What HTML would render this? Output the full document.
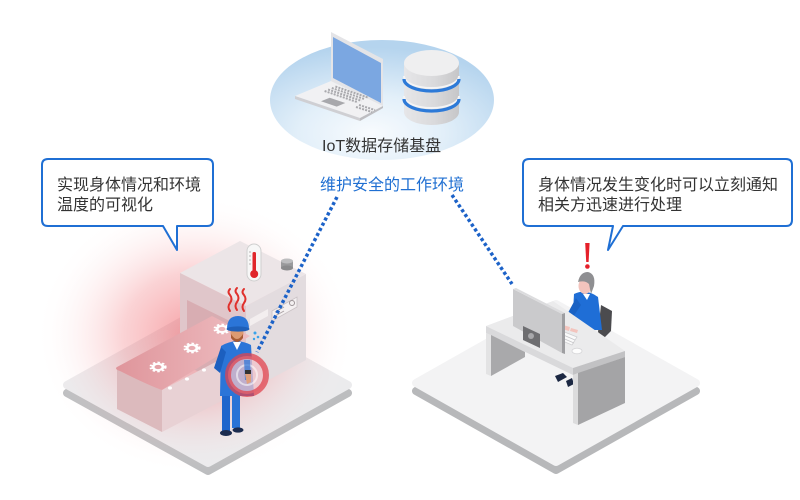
<!DOCTYPE html>
<html><head><meta charset="utf-8">
<style>
html,body{margin:0;padding:0;background:#fff;}
svg{display:block;}
text{font-family:"Liberation Sans","Noto Sans CJK SC",sans-serif;font-size:16px;}
</style></head>
<body>
<svg width="800" height="500" viewBox="0 0 800 500" xmlns="http://www.w3.org/2000/svg">
<defs>
 <radialGradient id="cloud" cx="0.45" cy="0.78" r="0.72">
  <stop offset="0" stop-color="#f8fbfe"/>
  <stop offset="0.45" stop-color="#e2eff9"/>
  <stop offset="1" stop-color="#b5d4ee"/>
 </radialGradient>
 <radialGradient id="glow" cx="0.5" cy="0.5" r="0.5">
  <stop offset="0" stop-color="#ef4e56" stop-opacity="0.55"/>
  <stop offset="0.45" stop-color="#f27a80" stop-opacity="0.33"/>
  <stop offset="1" stop-color="#ffffff" stop-opacity="0"/>
 </radialGradient>
 <linearGradient id="cyl" x1="0" x2="1">
  <stop offset="0" stop-color="#e6e6e8"/><stop offset="0.55" stop-color="#dadadc"/><stop offset="1" stop-color="#c6c6c8"/>
 </linearGradient>
 <linearGradient id="belt" x1="0" y1="0" x2="1" y2="0">
  <stop offset="0" stop-color="#df959b"/><stop offset="1" stop-color="#eebdc1"/>
 </linearGradient>
</defs>

<!-- Cloud -->
<ellipse cx="382" cy="100" rx="112" ry="60" fill="url(#cloud)"/>

<!-- Laptop -->
<polygon points="295,96 331,81 383,106 360,118" fill="#f1f1f3"/>
<polygon points="295,96 360,118 360,121 295,99" fill="#cfcfd3"/>
<polygon points="360,118 383,106 383,108 360,121" fill="#bdbdc1"/>
<polygon points="331,32 383,59 383,106 331,81" fill="#e4e4e7"/>
<polygon points="333,37 381,63 381,103 333,78" fill="#7ba7e1"/>
<g stroke="#a9a9ad" stroke-width="2" stroke-dasharray="2 1.2">
 <line x1="324.6" y1="91" x2="358" y2="102.4"/>
 <line x1="328.1" y1="89.5" x2="361.5" y2="100.9"/>
 <line x1="331.8" y1="88" x2="365" y2="99.3"/>
 <line x1="335.4" y1="86.5" x2="368.5" y2="97.8"/>
 <line x1="356" y1="107" x2="372" y2="112"/>
 <line x1="359" y1="105" x2="375" y2="110"/>
</g>
<polygon points="321,101.3 329.7,97.7 345.3,103 336.7,106.6" fill="#a8a8ac"/>

<!-- Database -->
<path d="M404,63 V112 A27.5,13 0 0 0 459,112 V63 Z" fill="url(#cyl)"/>
<path d="M404,76 A27.5,12 0 0 0 459,76" fill="none" stroke="#f4f4f5" stroke-width="2"/>
<path d="M404,79 A27.5,12 0 0 0 459,79" fill="none" stroke="#2d7ad8" stroke-width="3.2"/>
<path d="M404,96 A27.5,12 0 0 0 459,96" fill="none" stroke="#f4f4f5" stroke-width="2"/>
<path d="M404,99 A27.5,12 0 0 0 459,99" fill="none" stroke="#2d7ad8" stroke-width="3.2"/>
<ellipse cx="431.5" cy="63" rx="27.5" ry="13" fill="#efeff0"/>

<text x="322" y="151" fill="#333">IoT数据存储基盘</text>
<text x="320" y="190" fill="#1f6fd2">维护安全的工作环境</text>

<!-- Left platform -->
<polygon points="207,315 67,393 208,471 348,393" fill="#bcbdbf" stroke="#bcbdbf" stroke-width="8" stroke-linejoin="round"/>
<polygon points="207,307 67,385 208,463 348,385" fill="#ebebed" stroke="#ebebed" stroke-width="8" stroke-linejoin="round"/>

<!-- glow -->
<ellipse cx="195" cy="335" rx="160" ry="140" fill="url(#glow)"/>

<!-- Machine -->
<polygon points="180,273 240,241 306,274 246,306" fill="#ece5e7"/>
<polygon points="180,273 246,306 246,392 180,359" fill="#e0c6ca"/>
<polygon points="246,306 306,274 306,360 246,392" fill="#e3dcdf"/>
<polygon points="187,300 240,326 240,392 187,366" fill="#d8adb2"/>
<!-- control panel & glass -->
<polygon points="272,311 297,297 297,307 272,321" fill="#f4f0f1" stroke="#c9c1c4" stroke-width="0.8"/>
<circle cx="292" cy="303" r="2.5" fill="none" stroke="#9c9497" stroke-width="1"/>
<g stroke="#a9a1a4" stroke-width="1"><line x1="275" y1="312" x2="284" y2="307"/><line x1="275" y1="316" x2="284" y2="311"/></g>
<polygon points="250,319 268,309 268,316 250,326" fill="#f6f2f3" opacity="0.8"/>
<!-- Thermometer -->
<rect x="247" y="244" width="14" height="37" rx="7" fill="#f7f7f7" stroke="#cfcfcf" stroke-width="1"/>
<rect x="252.5" y="252" width="3.5" height="20" rx="1.5" fill="#e0262b"/>
<circle cx="254.2" cy="274" r="4" fill="#e0262b"/>
<g stroke="#9a9a9a" stroke-width="0.7"><line x1="249" y1="252" x2="251" y2="252"/><line x1="249" y1="256" x2="251" y2="256"/><line x1="249" y1="260" x2="251" y2="260"/><line x1="249" y1="264" x2="251" y2="264"/></g>
<!-- small cylinder -->
<rect x="281" y="261" width="12" height="7" fill="#9a9a9c"/>
<ellipse cx="287" cy="268" rx="6" ry="2.5" fill="#8a8a8c"/>
<ellipse cx="287" cy="261" rx="6" ry="2.5" fill="#bdbdbf"/>

<!-- Conveyor -->
<polygon points="117,367 162,390 162,432 117,409" fill="#dcbabd"/>
<polygon points="162,390 250,344 250,386 162,432" fill="#e8d1d4"/>
<path d="M117,367 L212,316 L250,336 L162,390 Q150,386 120,371 Q114,369 117,367 Z" fill="url(#belt)"/>
<g fill="#fff">
 <ellipse cx="170" cy="388" rx="2" ry="1.6"/><ellipse cx="187" cy="379" rx="2" ry="1.6"/><ellipse cx="204" cy="370" rx="2" ry="1.6"/>
</g>
<g fill="none" stroke="#fff">
 <g transform="translate(158,367) scale(1,0.62)"><circle r="5" stroke-width="3"/><circle r="7.3" stroke-width="2.6" stroke-dasharray="2.6 2.2"/></g>
 <g transform="translate(192,348) scale(1,0.62)"><circle r="5" stroke-width="3"/><circle r="7.3" stroke-width="2.6" stroke-dasharray="2.6 2.2"/></g>
 <g transform="translate(222,329) scale(1,0.62)"><circle r="5" stroke-width="3"/><circle r="7.3" stroke-width="2.6" stroke-dasharray="2.6 2.2"/></g>
</g>

<!-- left dotted line -->
<line x1="337" y1="197" x2="257" y2="352" stroke="#1c62c8" stroke-width="3.5" stroke-dasharray="3.2 2.6"/>

<!-- Worker -->
<g>
 <rect x="222" y="392" width="8" height="39" fill="#1f66cc"/>
 <rect x="232" y="392" width="8" height="36" fill="#2a73d6"/>
 <ellipse cx="226" cy="433" rx="6" ry="3" fill="#1c2c4f"/>
 <ellipse cx="238" cy="430" rx="5.5" ry="2.6" fill="#1c2c4f"/>
 <path d="M221,346 Q236,337 251,345 L254,396 L220,396 Z" fill="#2b75d8"/>
 <path d="M221,347 L214,368 L220,373 L226,352 Z" fill="#1c5fbf"/>
 <path d="M233,342 L237,350 L241,342 Z" fill="#fff"/>
 <ellipse cx="237" cy="333" rx="6.5" ry="7" fill="#dc9a72"/>
 <path d="M231,334 Q237,344 243,334 L243,338 Q237,346 231,338 Z" fill="#a85c35"/>
 <path d="M227,329 Q227,316 238,316 Q249,316 249,329 Z" fill="#2b75d8"/>
 <ellipse cx="238" cy="329" rx="11.5" ry="2.6" fill="#1f5fb8"/>
 <circle cx="255" cy="333" r="1.5" fill="#3aa3ea"/><circle cx="258" cy="337" r="1.3" fill="#3aa3ea"/><circle cx="254" cy="339" r="1.2" fill="#3aa3ea"/>
 <circle cx="247" cy="375" r="19" fill="#f1c3c9" fill-opacity="0.75" stroke="#e0444f" stroke-opacity="0.75" stroke-width="6"/>
 <circle cx="247" cy="375" r="10" fill="none" stroke="#fff" stroke-opacity="0.55" stroke-width="2"/>
 <path d="M244,360 L250,360 L251,380 L245,380 Z" fill="#2b75d8" opacity="0.7"/>
 <rect x="245" y="370" width="6" height="4" fill="#333"/>
 <path d="M245,374 L251,374 L251,382 L247,384 Z" fill="#e0a07c"/>
 <g fill="none" stroke="#e0312d" stroke-width="2" stroke-linecap="round">
  <path d="M230,311 q-3,-4 0,-8 q3,-4 0,-8 q-3,-3 0,-6"/>
  <path d="M237,310 q-3,-4 0,-8 q3,-4 0,-8 q-3,-3 0,-6"/>
  <path d="M244,311 q-3,-4 0,-8 q3,-4 0,-8 q-3,-3 0,-6"/>
 </g>
</g>

<!-- Right platform -->
<polygon points="556,312 416,391 556,470 696,391" fill="#b7b8ba" stroke="#b7b8ba" stroke-width="8" stroke-linejoin="round"/>
<polygon points="556,304 416,383 556,462 696,383" fill="#f3f3f4" stroke="#f3f3f4" stroke-width="8" stroke-linejoin="round"/>

<!-- feet under desk -->
<polygon points="555,376 563,373 567,377 558,382" fill="#1b2742"/>
<polygon points="566,381 572,378 574,384 568,387" fill="#1b2742"/>

<!-- chair -->
<polygon points="601,305 612,311 611,331 603,339 598,332" fill="#4b4b4e"/>
<!-- person -->
<path d="M574,294 Q586,288 598,297 L602,330 L572,330 Z" fill="#1f6ed6"/>
<path d="M576,298 L563,322 L567,326 L581,305 Z" fill="#1a62c4"/>
<ellipse cx="585" cy="286" rx="6.5" ry="8" fill="#f3c4bd"/>
<path d="M578,282 Q580,272 588,272 Q596,274 594,286 L591,294 L589,284 Q585,280 578,282 Z" fill="#8f8f92"/>
<path d="M583,294 L587,300 L590,294 Z" fill="#fff"/>
<!-- exclamation -->
<path d="M585.2,243 L589.6,243 L588.6,262 L586.2,262 Z" fill="#e5202a"/>
<circle cx="587.4" cy="266.5" r="2.3" fill="#e5202a"/>

<!-- Desk -->
<polygon points="486,326 553,301 625,351 573,368" fill="#ebebec"/>
<polygon points="486,326 573,368 573,375 486,333" fill="#d9d9db"/>
<polygon points="573,368 625,351 625,357 573,375" fill="#c2c2c4"/>
<polygon points="486,333 491,335 491,376 486,374" fill="#e3e3e4"/>
<polygon points="491,335 525,352 525,357 491,376" fill="#a9a9ab"/>
<polygon points="573,375 578,373 578,425 573,423" fill="#dcdcdd"/>
<polygon points="578,373 625,357 625,403 578,425" fill="#a4a4a6"/>
<!-- keyboard, mouse, hands -->
<polygon points="562,331 577,337 572,345 558,339" fill="#fafafa" stroke="#cfcfd2" stroke-width="0.8"/>
<g stroke="#c4c4c7" stroke-width="0.7"><line x1="561" y1="334" x2="575" y2="340"/><line x1="560" y1="337" x2="574" y2="343"/></g>
<ellipse cx="577" cy="351" rx="5" ry="2.8" fill="#fdfdfd" stroke="#d6d6d8" stroke-width="0.8"/>
<path d="M563,325 L570,327 L569,331 L562,329 Z" fill="#f3c4bd"/>
<path d="M571,328 L578,330 L577,333 L570,331 Z" fill="#f3c4bd"/>
<!-- monitor -->
<polygon points="513,289 562,314 562,353 513,326" fill="#cacacc"/>
<polygon points="513,289 516,288 565,313 562,314" fill="#dcdcde"/>
<polygon points="562,314 565,313 565,354 562,353" fill="#9e9ea1"/>
<polygon points="523,326 540,334 540,348 523,340" fill="#6e6e71"/>
<circle cx="531" cy="336" r="3" fill="#a8a8ab"/>

<!-- right dotted line -->
<line x1="452" y1="195" x2="512" y2="284" stroke="#1c62c8" stroke-width="3.5" stroke-dasharray="3.2 2.6"/>

<!-- Bubbles -->
<path d="M48,159 H207 Q213,159 213,165 V220 Q213,226 207,226 H177 V250 L163,226 H48 Q42,226 42,220 V165 Q42,159 48,159 Z" fill="#fff" stroke="#1f6fd4" stroke-width="2" stroke-linejoin="round"/>
<text x="57" y="190" fill="#333">实现身体情况和环境</text>
<text x="57" y="210" fill="#333">温度的可视化</text>

<path d="M529,159 H786 Q792,159 792,165 V220 Q792,226 786,226 H623 L608,250 L613,226 H529 Q523,226 523,220 V165 Q523,159 529,159 Z" fill="#fff" stroke="#1f6fd4" stroke-width="2" stroke-linejoin="round"/>
<text x="538" y="190" fill="#333">身体情况发生变化时可以立刻通知</text>
<text x="538" y="210" fill="#333">相关方迅速进行处理</text>
</svg>
</body></html>
